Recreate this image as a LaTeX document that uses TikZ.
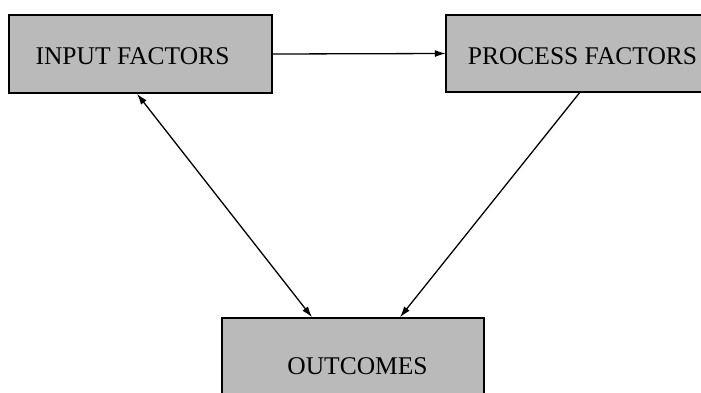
\documentclass[tikz,border=0pt]{standalone}
\usepackage{fontspec}
\setmainfont{Liberation Serif}
\usetikzlibrary{arrows.meta}
\begin{document}
\begin{tikzpicture}[x=1pt,y=1pt,
  boxfill/.style={fill=black!27, inner sep=0pt},
  factorbox/.style={boxfill, draw=black, line width=1.5pt},
  edge/.style={draw=black, line width=1.5pt},
  factortext/.style={inner sep=0pt, font=\fontsize{25.5}{29}\selectfont},
  link/.style={line width=1.3pt, -{Latex[length=11pt,width=7pt]}},
  twoway/.style={line width=1.3pt, {Latex[length=11pt,width=7pt]}-{Latex[length=11pt,width=7pt]}}]
  \useasboundingbox (0,0) rectangle (701,-392);
  % boxes; the right-hand one runs off the page edge
  \node[boxfill, minimum width=280pt, minimum height=77pt] (pr) at (586,-53.5) {};
  \draw[edge] (pr.north east) -- (pr.north west) -- (pr.south west) -- (pr.south east);
  \node[factorbox, minimum width=263pt, minimum height=78pt] (in) at (140.5,-54) {};
  \node[factorbox, minimum width=262pt, minimum height=90pt] (out) at (353,-363) {};
  % labels
  \node[factortext] (inT) at (132.5,-56) {INPUT FACTORS};
  \node[factortext] (prT) at (582.5,-56) {PROCESS FACTORS};
  \node[factortext] (outT) at (357.5,-366) {OUTCOMES};
  % connectors
  \draw[link] (in.east) -- (pr.west);
  \draw[twoway] ([xshift=-3.5pt]in.south) -- ([xshift=-41pt]out.north);
  \draw[link] ([xshift=-6pt]pr.south) -- ([xshift=47pt]out.north);
\end{tikzpicture}
\end{document}
